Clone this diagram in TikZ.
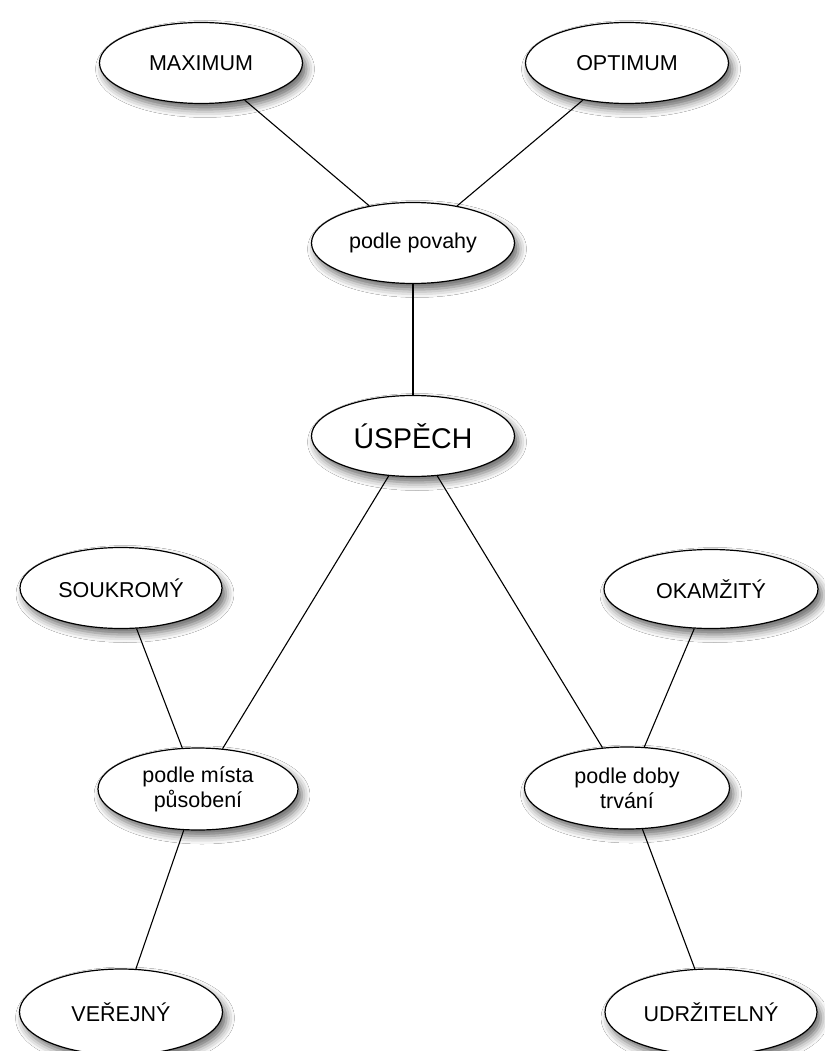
\documentclass[tikz,border=0pt]{standalone}
\usepackage{fontspec}
\setmainfont{Liberation Sans}
\usetikzlibrary{shapes.geometric,shadows.blur}
\begin{document}
\begin{tikzpicture}[x=1pt,y=-1pt,
  bubble/.style={ellipse, draw=black, line width=1.2pt, fill=white, inner sep=0pt,
    minimum width=203pt, minimum height=81pt, align=center,
    font=\fontsize{21.5}{25}\selectfont,
    blur shadow={shadow xshift=4pt, shadow yshift=-6pt, shadow blur radius=8pt, shadow opacity=60}},
  link/.style={draw=black, line width=1.1pt}]
\useasboundingbox[fill=white] (0,0) rectangle (824,1051);
\node[bubble] (max) at (201,63) {MAXIMUM};
\node[bubble] (opt) at (627,63) {OPTIMUM};
\node[bubble] (pov) at (413,243) {podle povahy};
\node[bubble, font=\fontsize{28.5}{32}\selectfont] (usp) at (413,436) {ÚSPĚCH};
\node[bubble, minimum width=202pt] (sou) at (121,588) {SOUKROMÝ};
\node[bubble, minimum width=214pt, minimum height=79pt] (oka) at (711,589) {OKAMŽITÝ};
\node[bubble, minimum width=200pt, minimum height=82pt] (mis) at (198,789) {podle místa\\působení};
\node[bubble, minimum width=205pt, minimum height=82pt] (dob) at (627,788) {podle doby\\trvání};
\node[bubble, minimum width=203pt, minimum height=86pt] (ver) at (121,1012) {VEŘEJNÝ};
\node[bubble, minimum width=212pt, minimum height=86pt] (udr) at (711,1012) {UDRŽITELNÝ};
\draw[link] (max) -- (pov);
\draw[link] (opt) -- (pov);
\draw[link] (pov) -- (usp);
\draw[link] (usp) -- (mis);
\draw[link] (usp) -- (dob);
\draw[link] (sou) -- (mis);
\draw[link] (oka) -- (dob);
\draw[link] (mis) -- (ver);
\draw[link] (dob) -- (udr);
\end{tikzpicture}
\end{document}
